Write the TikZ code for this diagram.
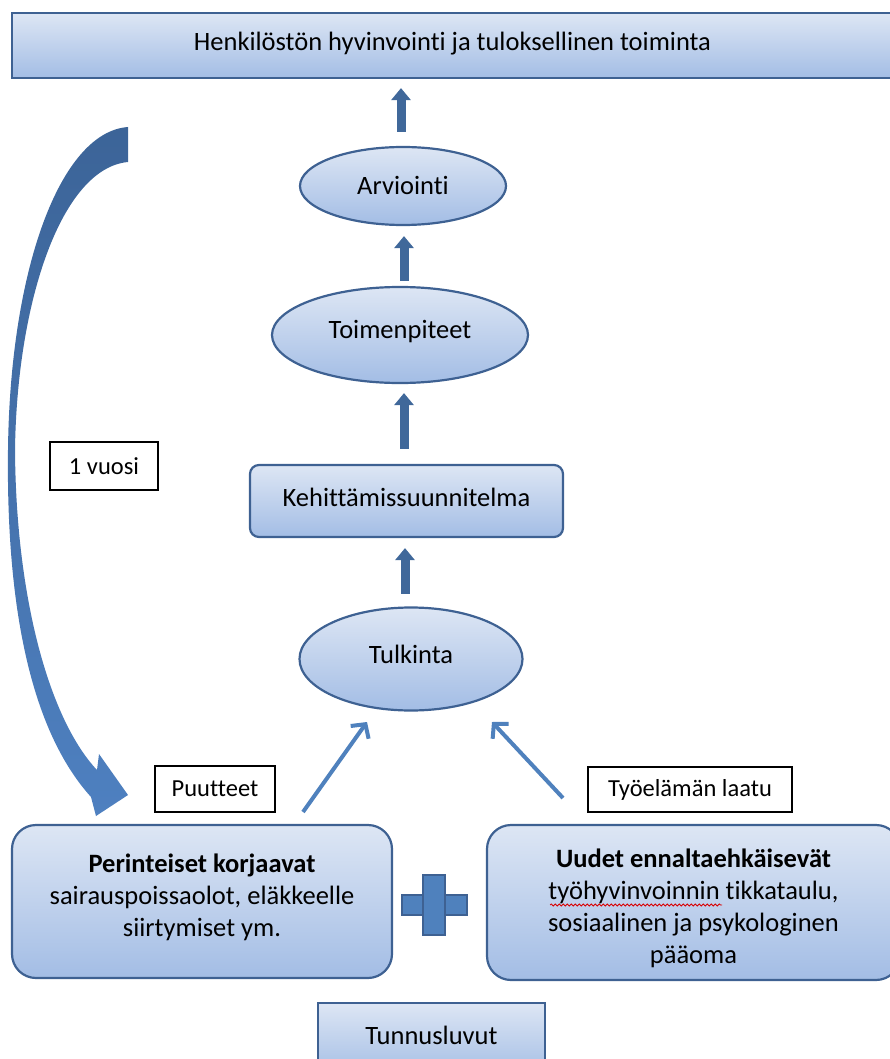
\documentclass[tikz,border=0pt]{standalone}
\usepackage{fontspec}
\setmainfont{Carlito}[Ligatures={NoCommon,NoContextual}]
\usetikzlibrary{arrows.meta,shapes.geometric,decorations.pathmorphing}
\newcommand\txtup[2]{\raisebox{#1}[\height][\depth]{#2}}
\definecolor{fillTop}{RGB}{221,230,244}
\definecolor{fillBot}{RGB}{163,189,229}
\definecolor{edgeBlue}{RGB}{62,97,146}
\definecolor{thickBlue}{RGB}{64,104,154}
\definecolor{thinBlue}{RGB}{79,129,189}
\definecolor{curveTop}{RGB}{60,100,152}
\definecolor{curveBot}{RGB}{78,128,192}
\tikzset{
  shaded/.style={draw=edgeBlue, line width=2.2pt, top color=fillTop, bottom color=fillBot, inner sep=0pt, font=\fontsize{26.5}{32}\selectfont, align=center},
  boxr/.style={shaded, rectangle},
  ell/.style={shaded, ellipse},
  labelbox/.style={draw=black, line width=1.6pt, fill=white, inner sep=0pt, font=\fontsize{24.5}{29}\selectfont},
  bigup/.style={draw=thickBlue, line width=9pt, -{Triangle[length=12pt,width=19pt]}},
  thinarrow/.style={draw=thinBlue, line width=4pt, -{Straight Barb[length=10pt,width=22pt]}},
}
\begin{document}
\begin{tikzpicture}[x=1pt,y=-1pt]
\useasboundingbox (0,0) rectangle (890,1059);
\clip (0,0) rectangle (890,1059);
% main nodes
\node[boxr, minimum width=881pt, minimum height=65pt] (top) at (452.5,45.5) {\txtup{2pt}{Henkilöstön hyvinvointi ja tuloksellinen toiminta}};
\node[ell, minimum width=206pt, minimum height=78pt] (arv) at (403,186) {\txtup{1pt}{Arviointi}};
\node[ell, minimum width=256pt, minimum height=96pt] (toim) at (400,335) {\txtup{3pt}{Toimenpiteet}};
\node[boxr, rounded corners=9pt, minimum width=313pt, minimum height=72pt] (keh) at (406.5,501) {\txtup{4pt}{Kehittämissuunnitelma}};
\node[ell, minimum width=223pt, minimum height=103pt] (tul) at (411,659) {\txtup{5pt}{Tulkinta}};
\node[boxr, rounded corners=24pt, minimum width=380pt, minimum height=153pt] (perin) at (202,901.5) {\txtup{3pt}{\begin{tabular}{@{}c@{}}\textbf{Perinteiset korjaavat}\\ sairauspoissaolot, eläkkeelle\\ siirtymiset ym.\end{tabular}}};
\node[boxr, rounded corners=24pt, minimum width=413pt, minimum height=155pt] (uudet) at (693.5,902.5) {\txtup{-7pt}{\begin{tabular}{@{}c@{}}\textbf{Uudet ennaltaehkäisevät}\\ työhyvinvoinnin tikkataulu,\\ sosiaalinen ja psykologinen\\ pääoma\end{tabular}}};
\node[boxr, minimum width=227pt, minimum height=74pt] (tunn) at (431.5,1040) {\txtup{5pt}{Tunnusluvut}};
% label boxes
\node[labelbox, minimum width=108pt, minimum height=48pt] (vuosi) at (104,466) {1 vuosi};
\node[labelbox, minimum width=120pt, minimum height=46pt] (puut) at (215,789) {Puutteet};
\node[labelbox, minimum width=204pt, minimum height=45pt] (tyo) at (690,789.5) {Työelämän laatu};
% plus sign
\node[draw=edgeBlue, line width=1.8pt, fill=thinBlue, minimum width=65pt, minimum height=20pt, inner sep=0pt] (plush) at (434.5,905) {};
\node[draw=edgeBlue, line width=1.8pt, fill=thinBlue, minimum width=22pt, minimum height=60pt, inner sep=0pt] (plusv) at (434,905) {};
\fill[thinBlue] (425,896) rectangle (443,914);
% thick up arrows
\draw[bigup] ([yshift=14pt]arv.north -| 401,0) -- ([yshift=-9pt]top.south -| 401,0);
\draw[bigup] ([yshift=5pt]toim.north -| 404,0) -- ([yshift=-10pt]arv.south -| 404,0);
\draw[bigup] ([yshift=15pt]keh.north -| 404,0) -- ([yshift=-9pt]toim.south -| 404,0);
\draw[bigup] ([yshift=12.5pt]tul.north -| 405,0) -- ([yshift=-10pt]keh.south -| 405,0);
% thin arrows
\coordinate (lt) at (303,812);
\coordinate (lh) at (367,722);
\coordinate (rt) at (563,798);
\coordinate (rh) at (492,722);
\draw[thinarrow] (lt) -- (lh);
\draw[thinarrow] (rt) -- (rh);
% curved arrow
\shade[top color=curveTop, bottom color=curveBot]
  (128,127) .. controls (60,132) and (10,270) .. (8,450)
  .. controls (6,620) and (35,735) .. (91,797)
  -- (96,816) -- (128,795) -- (99,754) -- (97,770)
  .. controls (50,720) and (16,600) .. (15,450)
  .. controls (17,300) and (62,168) .. (128,162) -- cycle;
% spell-check underline
\draw[red!85!black, line width=0.8pt, decorate, decoration={snake, amplitude=1pt, segment length=4pt}] (550,905) -- (722,905);
\end{tikzpicture}
\end{document}
